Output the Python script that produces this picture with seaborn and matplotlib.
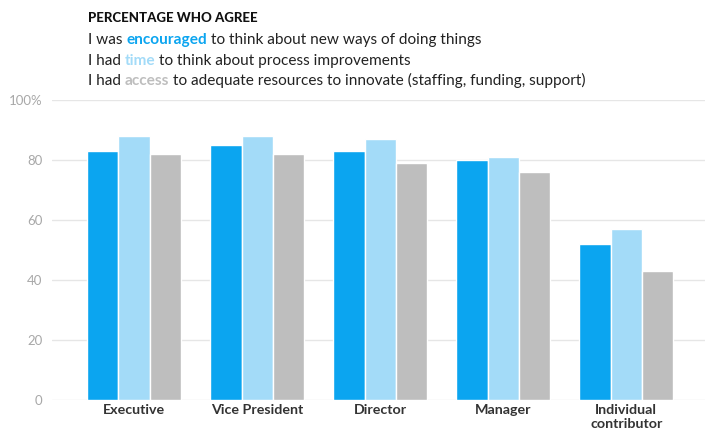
import matplotlib
matplotlib.use("Agg")
import matplotlib.pyplot as plt
import seaborn as sns
import pandas as pd

categories = ["Executive", "Vice President", "Director", "Manager", "Individual\ncontributor"]
encouraged = [83, 85, 83, 80, 52]
time_vals = [88, 88, 87, 81, 57]
access = [82, 82, 79, 76, 43]
series_names = ["encouraged", "time", "access"]
colors = ["#0BA5F0", "#A3DBF8", "#BEBEBE"]
yticks = [0, 20, 40, 60, 80, 100]
ytick_labels = ["0", "20", "40", "60", "80", "100%"]

rows = []
for name, vals in zip(series_names, [encouraged, time_vals, access]):
    for c, v in zip(categories, vals):
        rows.append({"category": c, "series": name, "value": v})
df = pd.DataFrame(rows)

sns.set_style("white")
plt.rcParams["font.family"] = ["Lato", "DejaVu Sans"]

fig = plt.figure(figsize=(7.05, 4.33), dpi=100)
ax = fig.add_axes([52 / 705, 33 / 433, 1 - 52 / 705, 300 / 433])

sns.barplot(data=df, x="category", y="value", hue="series", order=categories,
            hue_order=series_names, palette=colors, width=0.76, ax=ax,
            edgecolor="white", linewidth=1, legend=False, saturation=1)

ax.set_ylim(0, 100)
ax.set_xlim(-0.667, 4.64)
ax.set_yticks(yticks)
ax.set_yticklabels(ytick_labels, color="#A8A8A8", fontsize=9.5)
ax.yaxis.grid(True, color="#E6E6E6", linewidth=1)
ax.set_axisbelow(True)
ax.tick_params(axis="y", length=0, pad=7)
ax.tick_params(axis="x", length=0, pad=3)
for lbl in ax.get_xticklabels():
    lbl.set_fontsize(10.3)
    lbl.set_color("#333333")
    lbl.set_fontweight("bold")
    lbl.set_linespacing(1.15)
ax.set_xlabel("")
ax.set_ylabel("")
for s in ax.spines.values():
    s.set_visible(False)

# Header text
fig.text(88 / 705, 1 - 18 / 433, "PERCENTAGE WHO AGREE", fontsize=9.5, fontweight="black",
         color="#111111", va="center", ha="left")

lines = [
    ("I was ", "encouraged", "to think about new ways of doing things", colors[0]),
    ("I had ", "time", "to think about process improvements", colors[1]),
    ("I had ", "access", "to adequate resources to innovate (staffing, funding, support)", colors[2]),
]
ys = [40, 61, 81]
fs = 11.1
for (a, b, c, col), y in zip(lines, ys):
    t1 = fig.text(88 / 705, 1 - y / 433, a, fontsize=fs, color="#222222", va="center", ha="left")
    t2 = ax.annotate(b, xy=(1, 0), xycoords=t1, va="bottom", ha="left", fontsize=fs,
                     color=col, fontweight="bold", annotation_clip=False)
    ax.annotate(c, xy=(1, 0), xycoords=t2, xytext=(2.6, 0), textcoords="offset points",
                va="bottom", ha="left", fontsize=fs,
                color="#222222", annotation_clip=False)

fig.savefig("out.png", dpi=100)
